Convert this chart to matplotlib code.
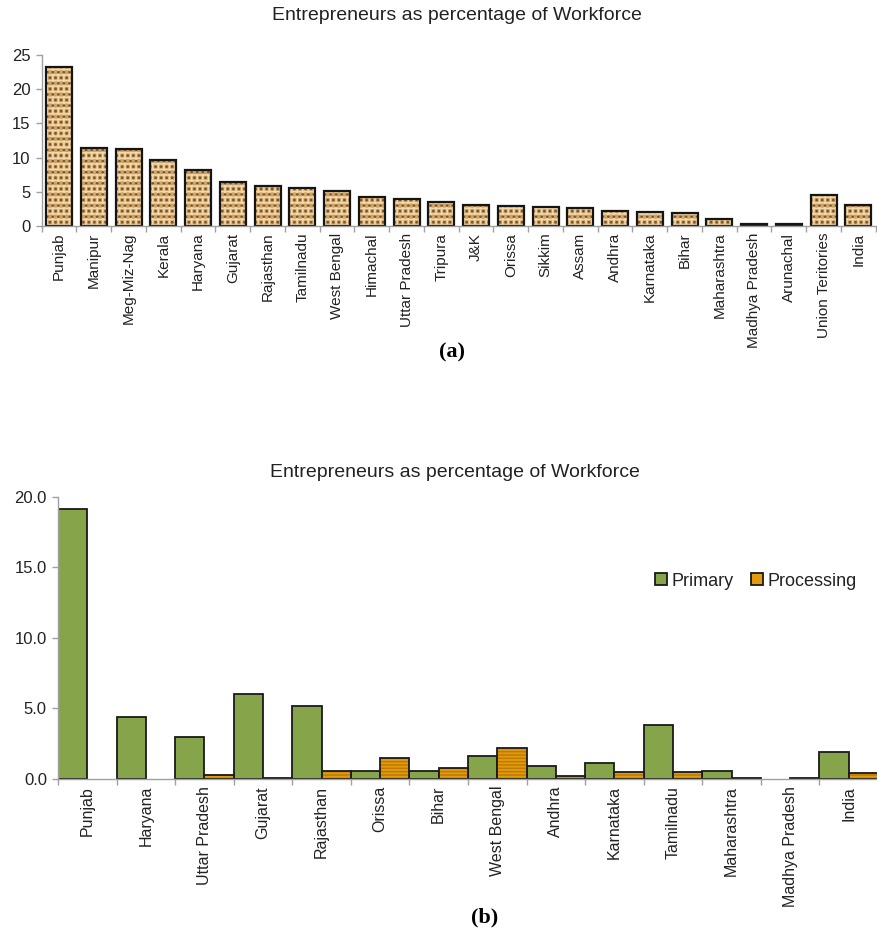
import numpy as np
import matplotlib
matplotlib.use('Agg')
from matplotlib import pyplot as plt
from matplotlib.patches import Patch

plt.rcParams['font.family'] = ['Liberation Sans', 'DejaVu Sans']
plt.rcParams['hatch.linewidth'] = 1.1

# panel (a): all states
states_a = ['Punjab', 'Manipur', 'Meg-Miz-Nag', 'Kerala', 'Haryana', 'Gujarat',
            'Rajasthan', 'Tamilnadu', 'West Bengal', 'Himachal', 'Uttar Pradesh',
            'Tripura', 'J&K', 'Orissa', 'Sikkim', 'Assam', 'Andhra', 'Karnataka',
            'Bihar', 'Maharashtra', 'Madhya Pradesh', 'Arunachal',
            'Union Teritories', 'India']
share_a = [23.3, 11.4, 11.2, 9.7, 8.2, 6.4, 5.8, 5.6, 5.1, 4.2, 3.9, 3.5,
           3.0, 2.9, 2.7, 2.6, 2.2, 2.0, 1.9, 1.0, 0.3, 0.2, 4.5, 3.0]
yticks_a = [0, 5, 10, 15, 20, 25]

# panel (b): primary vs processing
states_b = ['Punjab', 'Haryana', 'Uttar Pradesh', 'Gujarat', 'Rajasthan', 'Orissa',
            'Bihar', 'West Bengal', 'Andhra', 'Karnataka', 'Tamilnadu',
            'Maharashtra', 'Madhya Pradesh', 'India']
primary = [19.1, 4.4, 3.0, 6.0, 5.2, 0.6, 0.6, 1.6, 0.9, 1.1, 3.8, 0.6, 0.0, 1.9]
processing = [0.0, 0.0, 0.3, 0.1, 0.6, 1.5, 0.8, 2.2, 0.2, 0.5, 0.5, 0.1, 0.1, 0.4]
yticks_b = [0, 5, 10, 15, 20]

title = 'Entrepreneurs as percentage of Workforce'
txt = '#222222'
axis_grey = '#a0a0a0'

fig = plt.figure(figsize=(8.78, 9.33), dpi=100)
ax1 = fig.add_axes([41.7 / 878, 1 - 225.7 / 933, (875.7 - 41.7) / 878, (225.7 - 55.3) / 933])
ax2 = fig.add_axes([58 / 878, 1 - 779 / 933, (878 - 58) / 878, (779 - 496.7) / 933])


def style(ax, n, yticks, fmt):
    for s in ['top', 'right']:
        ax.spines[s].set_visible(False)
    for s in ['left', 'bottom']:
        ax.spines[s].set_color(axis_grey)
        ax.spines[s].set_linewidth(1.0)
    ax.set_xlim(-0.5, n - 0.5)
    ax.set_ylim(yticks[0], yticks[-1])
    ax.set_yticks(yticks)
    ax.set_yticklabels([fmt.format(v) for v in yticks], fontsize=12, color=txt)
    ax.set_xticks(np.arange(n + 1) - 0.5, minor=True)
    ax.tick_params(axis='x', which='major', length=0, pad=5)
    ax.tick_params(axis='x', which='minor', length=4, color=axis_grey, width=1)
    ax.tick_params(axis='y', length=4, color=axis_grey, width=1, pad=4)


# (a) textured bars: tan base, light weave, dark flecks, black outline
x = np.arange(len(states_a))
ax1.bar(x, share_a, 0.75, color='#cfa266', hatch='+++', edgecolor='#f0d9ad', linewidth=0)
ax1.bar(x, share_a, 0.75, fill=False, hatch='...', edgecolor='#7d5426', linewidth=0)
ax1.bar(x, share_a, 0.75, fill=False, edgecolor='#151515', linewidth=1.6)
style(ax1, len(states_a), yticks_a, '{:d}')
ax1.set_xticks(x)
ax1.set_xticklabels(states_a, rotation=90, fontsize=11, color=txt)
fig.text(457 / 878, 1 - 16 / 933, title, ha='center', va='center', fontsize=14, color=txt)
fig.text(452 / 878, 1 - 352 / 933, '(a)', ha='center', va='center', fontsize=16,
         fontweight='bold', family='Liberation Serif')

# (b) grouped bars
xb = np.arange(len(states_b))
prim = ax2.bar(xb - 0.25, primary, 0.5, color='#86a54b', edgecolor='#1a1a1a', linewidth=1.3)
proc_fill = ax2.bar(xb + 0.25, processing, 0.5, color='#e39b0d', hatch='-----',
                    edgecolor='#bd7a00', linewidth=0)
proc = ax2.bar(xb + 0.25, processing, 0.5, fill=False, edgecolor='#1a1a1a', linewidth=1.3)
for bars, vals in [(prim, primary), (proc_fill, processing), (proc, processing)]:
    for b, v in zip(bars, vals):
        if v == 0:
            b.set_visible(False)
style(ax2, len(states_b), yticks_b, '{:.1f}')
ax2.set_xticks(xb)
ax2.set_xticklabels(states_b, rotation=90, fontsize=11.5, color=txt)
fig.text(455 / 878, 1 - 473 / 933, title, ha='center', va='center', fontsize=14, color=txt)
fig.text(485 / 878, 1 - 917 / 933, '(b)', ha='center', va='center', fontsize=16,
         fontweight='bold', family='Liberation Serif')

handles = [Patch(facecolor='#86a54b', edgecolor='#1a1a1a', linewidth=1.3),
           Patch(facecolor='#e39b0d', edgecolor='#1a1a1a', linewidth=1.3)]
fig.legend(handles, ['Primary', 'Processing'], loc='center', ncol=2,
           bbox_to_anchor=(756 / 878, 1 - 581 / 933), frameon=False, fontsize=13,
           handlelength=0.65, handleheight=0.65, handletextpad=0.25, columnspacing=1.0,
           labelcolor=txt)

fig.savefig('out.png', dpi=100)
